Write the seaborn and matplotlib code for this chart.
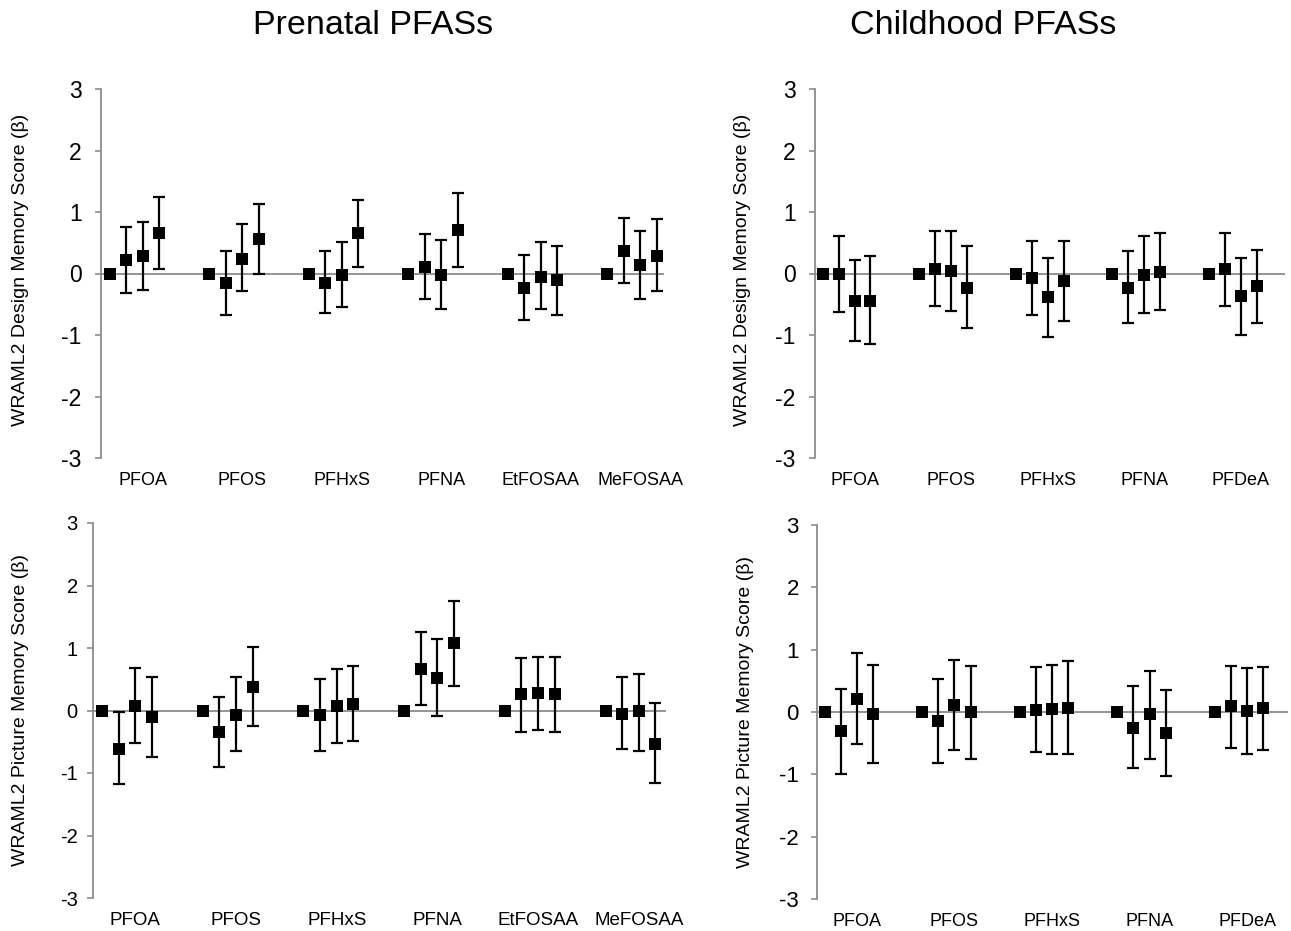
import matplotlib
matplotlib.use("Agg")
import matplotlib.pyplot as plt
import seaborn as sns
import pandas as pd
import numpy as np

sns.set_style("white")
plt.rcParams["font.family"] = ["Liberation Sans", "DejaVu Sans"]
plt.rcParams["text.color"] = "black"
plt.rcParams["xtick.color"] = "black"
plt.rcParams["ytick.color"] = "black"

# chemicals on the x axis
prenatal_chems = ["PFOA", "PFOS", "PFHxS", "PFNA", "EtFOSAA", "MeFOSAA"]
childhood_chems = ["PFOA", "PFOS", "PFHxS", "PFNA", "PFDeA"]
quartiles = ["Q1", "Q2", "Q3", "Q4"]

# beta estimates and 95% CI for Q2-Q4 (Q1 is the reference, beta = 0)
pre_design_est = [[0.22, 0.28, 0.66], [-0.15, 0.24, 0.56], [-0.15, -0.02, 0.66],
                  [0.11, -0.02, 0.71], [-0.23, -0.05, -0.11], [0.37, 0.14, 0.29]]
pre_design_lo = [[-0.31, -0.27, 0.07], [-0.68, -0.29, 0.00], [-0.65, -0.55, 0.10],
                 [-0.42, -0.58, 0.10], [-0.76, -0.58, -0.68], [-0.16, -0.42, -0.29]]
pre_design_hi = [[0.75, 0.83, 1.24], [0.36, 0.80, 1.13], [0.36, 0.52, 1.19],
                 [0.64, 0.54, 1.31], [0.30, 0.51, 0.44], [0.91, 0.69, 0.88]]

pre_picture_est = [[-0.61, 0.08, -0.11], [-0.34, -0.07, 0.38], [-0.07, 0.08, 0.11],
                   [0.67, 0.52, 1.08], [0.26, 0.28, 0.26], [-0.05, -0.01, -0.53]]
pre_picture_lo = [[-1.18, -0.52, -0.75], [-0.90, -0.65, -0.24], [-0.65, -0.52, -0.49],
                  [0.09, -0.09, 0.40], [-0.34, -0.31, -0.34], [-0.62, -0.65, -1.16]]
pre_picture_hi = [[-0.03, 0.68, 0.53], [0.22, 0.53, 1.02], [0.50, 0.66, 0.71],
                  [1.26, 1.14, 1.76], [0.84, 0.86, 0.86], [0.53, 0.58, 0.12]]

child_design_est = [[0.00, -0.44, -0.44], [0.08, 0.04, -0.23], [-0.08, -0.39, -0.12],
                    [-0.24, -0.03, 0.03], [0.07, -0.37, -0.21]]
child_design_lo = [[-0.62, -1.09, -1.15], [-0.53, -0.61, -0.89], [-0.68, -1.04, -0.78],
                   [-0.81, -0.65, -0.59], [-0.53, -1.00, -0.81]]
child_design_hi = [[0.61, 0.22, 0.28], [0.69, 0.69, 0.44], [0.53, 0.25, 0.53],
                   [0.36, 0.61, 0.66], [0.66, 0.25, 0.38]]

child_picture_est = [[-0.30, 0.21, -0.03], [-0.15, 0.11, 0.00], [0.04, 0.05, 0.07],
                     [-0.26, -0.04, -0.33], [0.09, 0.01, 0.07]]
child_picture_lo = [[-1.00, -0.51, -0.82], [-0.82, -0.61, -0.75], [-0.64, -0.67, -0.67],
                    [-0.90, -0.75, -1.03], [-0.57, -0.68, -0.61]]
child_picture_hi = [[0.37, 0.95, 0.76], [0.53, 0.84, 0.74], [0.72, 0.76, 0.82],
                    [0.41, 0.66, 0.35], [0.74, 0.71, 0.72]]


def make_df(chems, est, lo, hi):
    rows = []
    for i, c in enumerate(chems):
        rows.append((c, i, "Q1", 0.0, np.nan, np.nan))
        for j, q in enumerate(quartiles[1:]):
            rows.append((c, i, q, est[i][j], lo[i][j], hi[i][j]))
    return pd.DataFrame(rows, columns=["chem", "idx", "quartile", "beta", "lo", "hi"])


offsets = {"Q1": -0.33, "Q2": -0.165, "Q3": 0.0, "Q4": 0.165}


def draw_panel(ax, df, chems, xlim, tick_fs, lab_fs, pad):
    df = df.copy()
    df["x"] = df["idx"] + df["quartile"].map(offsets)
    ax.axhline(0, color="#8c8c8c", lw=1.3, zorder=1)
    ci = df.dropna()
    ax.errorbar(ci["x"], ci["beta"], yerr=[ci["beta"] - ci["lo"], ci["hi"] - ci["beta"]],
                fmt="none", ecolor="black", elinewidth=1.6, capsize=4.5, capthick=1.6, zorder=2)
    sns.scatterplot(data=df, x="x", y="beta", marker="s", s=65, color="black",
                    edgecolor="black", linewidth=0, ax=ax, zorder=3, legend=False)
    ax.set_xlim(*xlim)
    ax.set_ylim(-3, 3)
    ax.set_yticks(range(-3, 4))
    ax.set_yticklabels([str(v) for v in range(-3, 4)])
    ax.set_xticks(range(len(chems)))
    ax.set_xticklabels(chems)
    ax.tick_params(axis="x", length=0, pad=10, labelsize=lab_fs, labelcolor="black")
    ax.tick_params(axis="y", length=4, width=1.2, color="#8c8c8c", direction="out",
                   pad=pad, labelsize=tick_fs, left=True, labelcolor="black")
    for s in ["top", "right", "bottom"]:
        ax.spines[s].set_visible(False)
    ax.spines["left"].set_color("#8c8c8c")
    ax.spines["left"].set_linewidth(1.3)
    ax.set_xlabel("")
    ax.set_ylabel("")


W, H = 1291, 931
fig = plt.figure(figsize=(W / 100, H / 100), dpi=100)


def add_axes(left, right, top, bottom):
    return fig.add_axes([left / W, 1 - bottom / H, (right - left) / W, (bottom - top) / H])


ax_tl = add_axes(101, 664, 89, 458)
ax_bl = add_axes(93, 666, 523, 898)
ax_tr = add_axes(815, 1285, 89, 458)
ax_br = add_axes(817, 1288, 525, 899)

draw_panel(ax_tl, make_df(prenatal_chems, pre_design_est, pre_design_lo, pre_design_hi),
           prenatal_chems, (-0.42, 5.24), 16.5, 13, 10)
draw_panel(ax_bl, make_df(prenatal_chems, pre_picture_est, pre_picture_lo, pre_picture_hi),
           prenatal_chems, (-0.42, 5.27), 14.5, 13.5, 7)
draw_panel(ax_tr, make_df(childhood_chems, child_design_est, child_design_lo, child_design_hi),
           childhood_chems, (-0.41, 4.46), 16.5, 13, 10)
draw_panel(ax_br, make_df(childhood_chems, child_picture_est, child_picture_lo, child_picture_hi),
           childhood_chems, (-0.41, 4.42), 16, 13, 9)

# y labels
ylab_fs = 14
fig.text(21 / W, 1 - 270 / H, "WRAML2 Design Memory Score (β)", rotation=90,
         ha="center", va="center", fontsize=ylab_fs)
fig.text(21 / W, 1 - 710 / H, "WRAML2 Picture Memory Score (β)", rotation=90,
         ha="center", va="center", fontsize=ylab_fs)
fig.text(743 / W, 1 - 270 / H, "WRAML2 Design Memory Score (β)", rotation=90,
         ha="center", va="center", fontsize=ylab_fs)
fig.text(746 / W, 1 - 712 / H, "WRAML2 Picture Memory Score (β)", rotation=90,
         ha="center", va="center", fontsize=ylab_fs)

# column titles
fig.text(373 / W, 1 - 26 / H, "Prenatal PFASs", ha="center", va="center", fontsize=24.5)
fig.text(983 / W, 1 - 26 / H, "Childhood PFASs", ha="center", va="center", fontsize=24.5)

fig.savefig("out.png", dpi=100)
